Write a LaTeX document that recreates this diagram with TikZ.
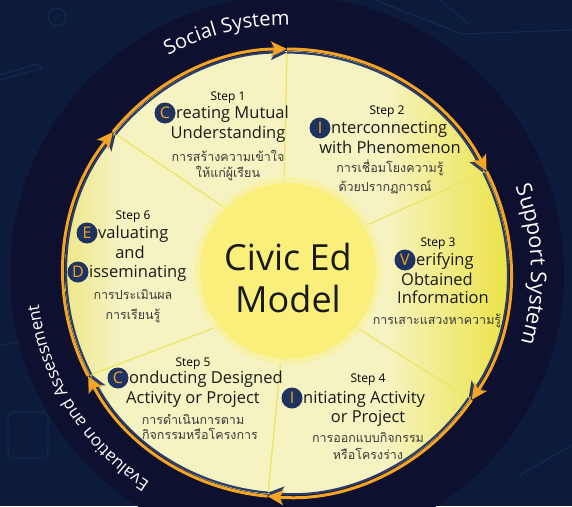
\documentclass[tikz,border=0pt]{standalone}
\usepackage{fontspec}
\setmainfont{Open Sans}
\newfontfamily\thaifont[Script=Thai]{Loma}
\usetikzlibrary{arrows.meta,decorations.text}

\definecolor{bgnavy}{HTML}{0C1B3B}
\definecolor{bgline}{HTML}{15284A}
\definecolor{ringnavy}{HTML}{0E1030}
\definecolor{orangeA}{HTML}{F5A424}
\definecolor{shadowB}{HTML}{2B3D66}
\definecolor{badgeblue}{HTML}{1F3361}
\definecolor{spokecol}{HTML}{EDE66A}
\definecolor{thaigray}{HTML}{3A3A3A}
\definecolor{wA}{HTML}{EEE78A}
\definecolor{wB}{HTML}{F6F3C2}
\definecolor{wC}{HTML}{EBE347}
\definecolor{innerY}{HTML}{F9EF7A}
\definecolor{innerH}{HTML}{F8F29E}

\pgfdeclarehorizontalshading{wheelshade}{100bp}{color(0bp)=(wA); color(25bp)=(wA); color(31bp)=(wB); color(61bp)=(wB); color(75bp)=(wC); color(100bp)=(wC)}

\newcommand\ringfnt[1]{\fontsize{#1}{#1}\selectfont\color{white}}

\tikzset{
  steplbl/.style={font=\fontsize{12}{12}\selectfont, text=black, inner sep=0, anchor=base},
  ttl/.style={font=\fontsize{16.5}{16.5}\selectfont, text=black!90, inner sep=0, anchor=base},
  ttlw/.style={ttl, anchor=base west},
  thai/.style={font=\thaifont\fontsize{12.5}{12.5}\selectfont, text=thaigray, inner sep=0, anchor=base},
  badge/.style={circle, fill=badgeblue, minimum size=21pt, inner sep=0, text=orangeA, font=\fontsize{16}{16}\selectfont},
  spokeline/.style={draw=spokecol, line width=1.4pt},
  orangearc/.style={draw=orangeA, line width=3pt, -{Stealth[length=16pt, width=15pt, inset=4pt]}},
  shadowarc/.style={draw=shadowB, line width=2.2pt, -{Stealth[length=16pt, width=15pt, inset=4pt]}},
  bigtxt/.style={font=\fontsize{36}{36}\selectfont, text=black!90, inner sep=0, anchor=base}
}

\begin{document}
\begin{tikzpicture}[x=1pt,y=-1pt]
\useasboundingbox (0,0) rectangle (572,506);
\fill[bgnavy] (0,0) rectangle (572,506);

% faint background sketches
\begin{scope}[draw=bgline, line width=1.2pt]
  \draw (57,17) circle (9);
  \draw (0,75) -- (38,64) -- (42,68) -- (0,80);
  \draw (375,0) -- (462,34) -- (572,30);
  \draw (440,0) -- (470,25);
  \draw[rounded corners=6] (8,412) rectangle (48,458);
  \draw (0,345) -- (30,340);
  \draw (520,475) -- (572,445);
\end{scope}

% dark disk
\fill[ringnavy] (287,273) circle (277);

% wheel
\begin{scope}[shift={(287,273)}]
  \shade[shading=wheelshade] (0,0) circle (222);
\end{scope}

% spokes
\coordinate (o1) at (287,51);  \coordinate (i1) at (284,185);
\coordinate (o2) at (485,172); \coordinate (i2) at (365,226);
\coordinate (o3) at (470,399); \coordinate (i3) at (356,327);
\coordinate (o4) at (268,494); \coordinate (i4) at (281,358);
\coordinate (o5) at (90,375);  \coordinate (i5) at (219,326);
\coordinate (o6) at (114,133); \coordinate (i6) at (225,208);
\foreach \k in {1,...,6} { \draw[spokeline] (i\k) -- (o\k); }

% inner circle
\fill[innerH, opacity=0.7] (288,271) circle (94);
\node[circle, fill=innerY, minimum size=176pt, inner sep=0] (core) at (288,271) {};

% ring arrows
\begin{scope}[shift={(287,273)}]
  \foreach \a/\b in {219/270, 270/333, 333/394.5, 394.5/455, 455/512.6, 512.6/579} {
    \draw[shadowarc] (\a:220.5) arc[start angle=\a, end angle=\b, radius=220.5];
    \draw[orangearc] (\a:224) arc[start angle=\a, end angle=\b, radius=224];
  }
  % ring labels
  \path[decorate, decoration={text along path, text align=center,
      text={|\ringfnt{20}|Social System}}]
      (211:248) arc[start angle=211, end angle=301, radius=248];
  \path[decorate, decoration={text along path, text align=center,
      text={|\ringfnt{21.5}|Support System}}]
      (-47:244) arc[start angle=-47, end angle=43, radius=244];
  \path[decorate, decoration={text along path, text align=center,
      text={|\ringfnt{17}|Evaluation and Assessment}}]
      (103:250) arc[start angle=103, end angle=193, radius=250];
\end{scope}

% center title
\node[bigtxt] (civic) at (288,270) {Civic Ed};
\node[bigtxt] (model) at (288,312) {Model};

% Step 1
\node[steplbl] (s1) at (228,100) {Step 1};
\node[badge] (b1) at (165,113) {C};
\node[ttlw] (s1a) at (176,118) {reating Mutual};
\node[ttl] (s1b) at (228,138) {Understanding};
\node[thai] (s1c) at (228,161) {การสร้างความเข้าใจ};
\node[thai] (s1d) at (228,177) {ให้แก่ผู้เรียน};

% Step 2
\node[steplbl] (s2) at (387,114) {Step 2};
\node[badge] (b2) at (320,128) {I};
\node[ttlw] (s2a) at (331,133) {nterconnecting};
\node[ttl] (s2b) at (390,153) {with Phenomenon};
\node[thai] (s2c) at (390,172) {การเชื่อมโยงความรู้};
\node[thai] (s2d) at (385,191) {ด้วยปรากฏการณ์};

% Step 3
\node[steplbl] (s3) at (438,246) {Step 3};
\node[badge] (b3) at (405,260) {V};
\node[ttlw] (s3a) at (416,265) {erifying};
\node[ttl] (s3b) at (437,285) {Obtained};
\node[ttl] (s3c) at (443,303) {Information};
\node[thai] (s3d) at (437,324) {การเสาะแสวงหาความรู้};

% Step 4
\node[steplbl] (s4) at (368,382) {Step 4};
\node[badge] (b4) at (292,398) {I};
\node[ttlw] (s4a) at (303,403) {nitiating Activity};
\node[ttl] (s4b) at (368,422) {or Project};
\node[thai] (s4c) at (368,442) {การออกแบบกิจกรรม};
\node[thai] (s4d) at (368,459) {หรือโครงร่าง};

% Step 5
\node[steplbl] (s5) at (193,366) {Step 5};
\node[badge] (b5) at (118,378) {C};
\node[ttlw] (s5a) at (129,383) {onducting Designed};
\node[ttl] (s5b) at (193,403) {Activity or Project};
\node[thai] (s5c) at (193,424) {การดำเนินการตาม};
\node[thai] (s5d) at (200,439) {กิจกรรมหรือโครงการ};

% Step 6
\node[steplbl] (s6) at (133,219) {Step 6};
\node[badge] (b6) at (87,233) {E};
\node[ttlw] (s6a) at (98,238) {valuating};
\node[ttl] (s6b) at (130,258) {and};
\node[badge] (b7) at (78,272) {D};
\node[ttlw] (s6c) at (89,277) {isseminating};
\node[thai] (s6d) at (133,299) {การประเมินผล};
\node[thai] (s6e) at (133,319) {การเรียนรู้};
\end{tikzpicture}
\end{document}
